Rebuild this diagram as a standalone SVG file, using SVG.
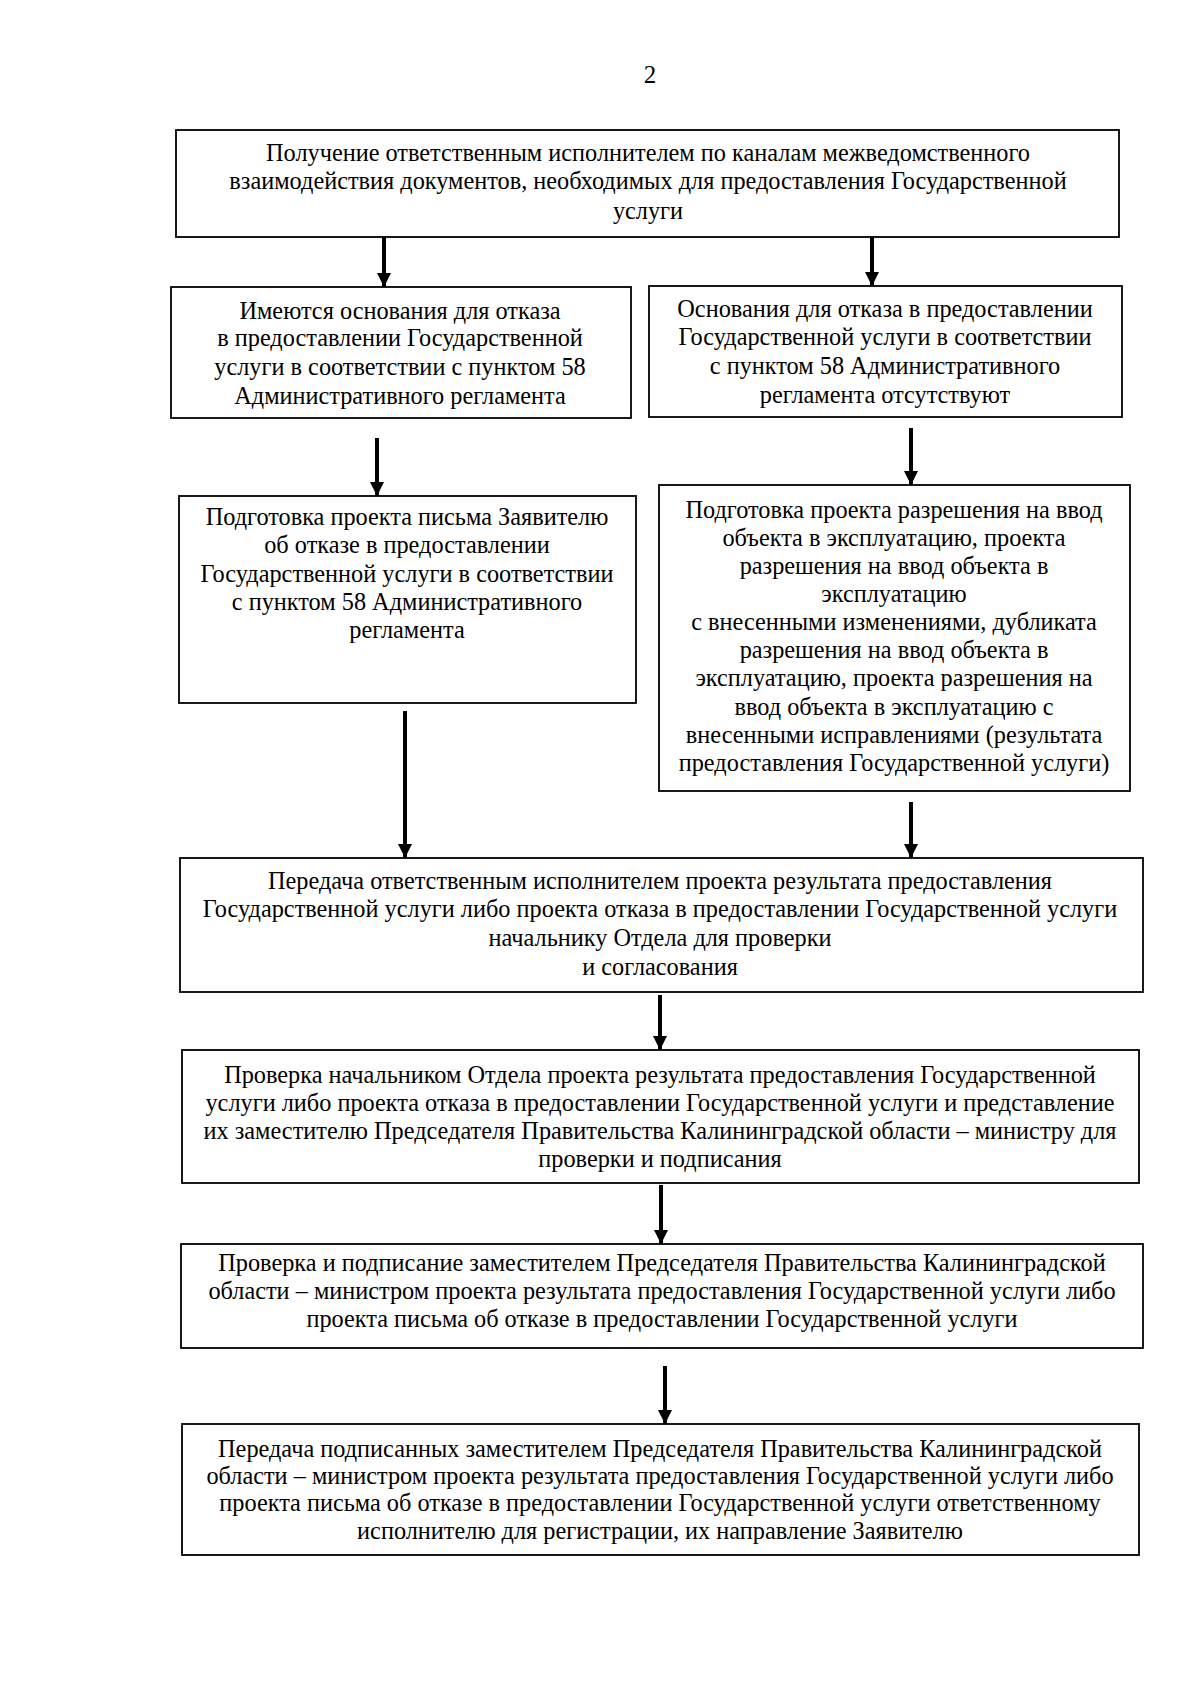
<svg xmlns="http://www.w3.org/2000/svg" width="1200" height="1697" viewBox="0 0 1200 1697">
<defs>
<marker id="ah" markerWidth="14" markerHeight="14" refX="14" refY="7" orient="auto" markerUnits="userSpaceOnUse" viewBox="0 0 14 14">
<path d="M0,0 L14,7 L0,14 Z" fill="#000"/>
</marker>
<style>
.box{fill:#fff;stroke:#000;stroke-width:1.8}
.t{font-family:"Liberation Serif","Times New Roman",serif;font-size:24.3px;fill:#000;text-anchor:middle}
.arr{stroke:#000;stroke-width:4;fill:none;marker-end:url(#ah)}
</style>
</defs>
<rect width="1200" height="1697" fill="#fff"/>
<text class="t" x="650" y="83" style="font-size:25px">2</text>

<g id="n1">
<rect class="box" x="176" y="130" width="943" height="107"/>
<text class="t" x="648" y="161">Получение ответственным исполнителем по каналам межведомственного</text>
<text class="t" x="648" y="189">взаимодействия документов, необходимых для предоставления Государственной</text>
<text class="t" x="648" y="219">услуги</text>
</g>

<g id="n2">
<rect class="box" x="171" y="287" width="460" height="131"/>
<text class="t" x="400" y="319">Имеются основания для отказа</text>
<text class="t" x="400" y="346">в предоставлении Государственной</text>
<text class="t" x="400" y="375">услуги в соответствии с пунктом 58</text>
<text class="t" x="400" y="404">Административного регламента</text>
</g>

<g id="n3">
<rect class="box" x="649" y="286" width="473" height="131"/>
<text class="t" x="885" y="317">Основания для отказа в предоставлении</text>
<text class="t" x="885" y="345">Государственной услуги в соответствии</text>
<text class="t" x="885" y="374">с пунктом 58 Административного</text>
<text class="t" x="885" y="403">регламента отсутствуют</text>
</g>

<g id="n4">
<rect class="box" x="179" y="496" width="457" height="207"/>
<text class="t" x="407" y="525">Подготовка проекта письма Заявителю</text>
<text class="t" x="407" y="553">об отказе в предоставлении</text>
<text class="t" x="407" y="582">Государственной услуги в соответствии</text>
<text class="t" x="407" y="610">с пунктом 58 Административного</text>
<text class="t" x="407" y="638">регламента</text>
</g>

<g id="n5">
<rect class="box" x="659" y="485" width="471" height="306"/>
<text class="t" x="894" y="518">Подготовка проекта разрешения на ввод</text>
<text class="t" x="894" y="546">объекта в эксплуатацию, проекта</text>
<text class="t" x="894" y="574">разрешения на ввод объекта в</text>
<text class="t" x="894" y="602">эксплуатацию</text>
<text class="t" x="894" y="630">с внесенными изменениями, дубликата</text>
<text class="t" x="894" y="658">разрешения на ввод объекта в</text>
<text class="t" x="894" y="686">эксплуатацию, проекта разрешения на</text>
<text class="t" x="894" y="715">ввод объекта в эксплуатацию с</text>
<text class="t" x="894" y="743">внесенными исправлениями (результата</text>
<text class="t" x="894" y="771">предоставления Государственной услуги)</text>
</g>

<g id="n6">
<rect class="box" x="180" y="858" width="963" height="134"/>
<text class="t" x="660" y="889">Передача ответственным исполнителем проекта результата предоставления</text>
<text class="t" x="660" y="917">Государственной услуги либо проекта отказа в предоставлении Государственной услуги</text>
<text class="t" x="660" y="946">начальнику Отдела для проверки</text>
<text class="t" x="660" y="975">и согласования</text>
</g>

<g id="n7">
<rect class="box" x="182" y="1050" width="957" height="133"/>
<text class="t" x="660" y="1083">Проверка начальником Отдела проекта результата предоставления Государственной</text>
<text class="t" x="660" y="1111">услуги либо проекта отказа в предоставлении Государственной услуги и представление</text>
<text class="t" x="660" y="1139">их заместителю Председателя Правительства Калининградской области – министру для</text>
<text class="t" x="660" y="1167">проверки и подписания</text>
</g>

<g id="n8">
<rect class="box" x="181" y="1244" width="962" height="104"/>
<text class="t" x="662" y="1271">Проверка и подписание заместителем Председателя Правительства Калининградской</text>
<text class="t" x="662" y="1299">области – министром проекта результата предоставления Государственной услуги либо</text>
<text class="t" x="662" y="1327">проекта письма об отказе в предоставлении Государственной услуги</text>
</g>

<g id="n9">
<rect class="box" x="182" y="1424" width="957" height="131"/>
<text class="t" x="660" y="1457">Передача подписанных заместителем Председателя Правительства Калининградской</text>
<text class="t" x="660" y="1484">области – министром проекта результата предоставления Государственной услуги либо</text>
<text class="t" x="660" y="1511">проекта письма об отказе в предоставлении Государственной услуги ответственному</text>
<text class="t" x="660" y="1539">исполнителю для регистрации, их направление Заявителю</text>
</g>

<g id="connectors">
<line class="arr" x1="384" y1="237" x2="384" y2="287"/>
<line class="arr" x1="872" y1="237" x2="872" y2="286"/>
<line class="arr" x1="377" y1="438" x2="377" y2="496"/>
<line class="arr" x1="911" y1="428" x2="911" y2="485"/>
<line class="arr" x1="405" y1="711" x2="405" y2="858"/>
<line class="arr" x1="911" y1="802" x2="911" y2="858"/>
<line class="arr" x1="660" y1="995" x2="660" y2="1050"/>
<line class="arr" x1="661" y1="1185" x2="661" y2="1244"/>
<line class="arr" x1="665" y1="1366" x2="665" y2="1424"/>
</g>
</svg>
